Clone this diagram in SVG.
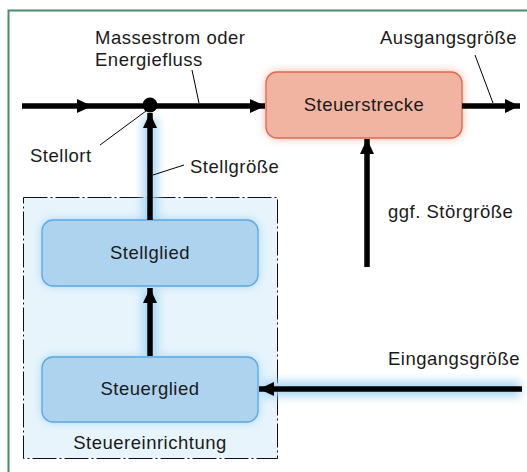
<svg xmlns="http://www.w3.org/2000/svg" width="527" height="472" viewBox="0 0 527 472">
<style>
text{font-family:"Liberation Sans",Arial,sans-serif;font-size:18.5px;letter-spacing:0.5px;fill:#1a1a1a}
.c{text-anchor:middle}
.flow{stroke:#000;stroke-width:5.5;fill:none}
.lead{stroke:#000;stroke-width:1;fill:none}
.glowR{stroke:#f39a9a;stroke-width:16;fill:none;filter:url(#blur);opacity:.8}
.glowB{stroke:#a0d4f4;stroke-width:16;fill:none;filter:url(#blur);opacity:.85}
.glowY{stroke:#fde070;stroke-width:14;fill:none;filter:url(#blur);opacity:.95}
.blue{fill:#aed3ef;stroke:#5aa9e2;stroke-width:1.3}
</style>
<defs>
<filter id="blur" x="-50%" y="-50%" width="200%" height="200%"><feGaussianBlur stdDeviation="4"/></filter>
<filter id="blur2" x="-30%" y="-30%" width="160%" height="160%"><feGaussianBlur stdDeviation="5"/></filter>
<marker id="ah" markerUnits="userSpaceOnUse" markerWidth="16" markerHeight="16" refX="15" refY="8" orient="auto"><path d="M0,1 L15,8 L0,15 z" fill="#000"/></marker>
</defs>
<rect width="527" height="472" fill="#fff"/>
<path d="M8.5,472 L8.5,10.5 L527,10.5" fill="none" stroke="#4b8c6c" stroke-width="2"/>

<g id="steuereinrichtung">
<rect x="23.5" y="197.5" width="254" height="261" fill="#e7f4fc" stroke="#111" stroke-width="1" stroke-dasharray="24 3 2 3"/>
<text class="c" x="150" y="449">Steuereinrichtung</text>
</g>

<g id="glows">
<path class="glowR" d="M22,106 L265,106 M462,106 L518,106"/>
<path class="glowB" d="M150,222 L150,118 M150,356 L150,290 M520,389 L262,389"/>
<path class="glowY" d="M367,267 L367,142"/>
</g>

<g id="steuerstrecke">
<rect x="266" y="72" width="196" height="66" rx="11" fill="#f39a86" filter="url(#blur2)" opacity=".85"/>
<rect x="266" y="72" width="196" height="66" rx="11" fill="#f0b4a1" stroke="#e2684f" stroke-width="1.3"/>
<text class="c" x="364" y="111">Steuerstrecke</text>
</g>

<g id="stellglied">
<rect x="42" y="220" width="216" height="66" rx="11" fill="#8cc8f0" filter="url(#blur2)" opacity=".8"/>
<rect class="blue" x="42" y="220" width="216" height="66" rx="11"/>
<text class="c" x="150" y="259">Stellglied</text>
</g>

<g id="steuerglied">
<rect x="42" y="357" width="216" height="65" rx="11" fill="#8cc8f0" filter="url(#blur2)" opacity=".8"/>
<rect class="blue" x="42" y="357" width="216" height="65" rx="11"/>
<text class="c" x="150" y="395">Steuerglied</text>
</g>

<g id="connectors">
<path class="flow" d="M22,106 L92,106 L265,106" marker-mid="url(#ah)" marker-end="url(#ah)"/>
<path class="flow" d="M462,106 L520,106" marker-end="url(#ah)"/>
<path class="flow" d="M150,220 L150,113" marker-end="url(#ah)"/>
<path class="flow" d="M150,356 L150,288" marker-end="url(#ah)"/>
<path class="flow" d="M367,267 L367,139" marker-end="url(#ah)"/>
<path class="flow" d="M522,389 L259,389" marker-end="url(#ah)"/>
<circle cx="150" cy="105" r="7.5" fill="#000"/>
<path class="lead" d="M192,70 L199,103"/>
<path class="lead" d="M475,55 L493,103"/>
<path class="lead" d="M100,145 L146,111"/>
<path class="lead" d="M153,175 L184,165"/>
</g>

<g id="labels">
<text x="95" y="44">Massestrom oder</text>
<text x="95" y="66">Energiefluss</text>
<text x="380" y="44">Ausgangsgröße</text>
<text x="30" y="162">Stellort</text>
<text x="190" y="173">Stellgröße</text>
<text x="388" y="218">ggf. Störgröße</text>
<text x="388" y="365">Eingangsgröße</text>
</g>
</svg>
